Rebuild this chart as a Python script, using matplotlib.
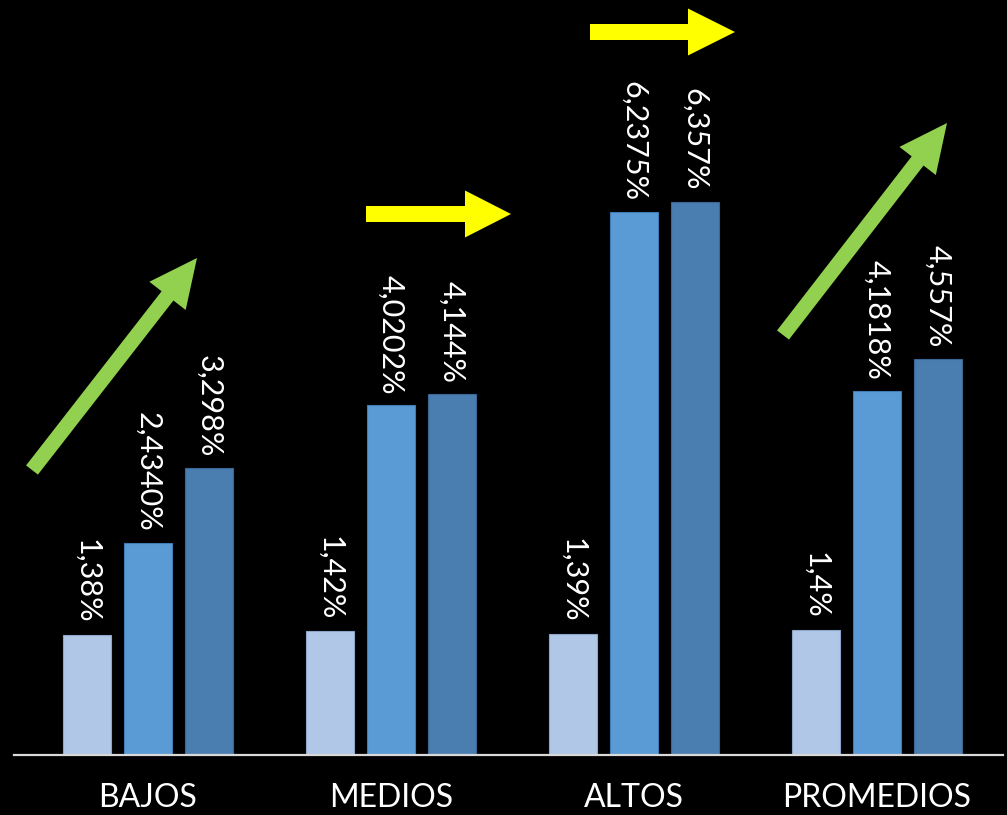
import matplotlib
matplotlib.use("Agg")
import matplotlib.pyplot as plt
from matplotlib.patches import FancyArrow
import numpy as np

categories = ["BAJOS", "MEDIOS", "ALTOS", "PROMEDIOS"]
serie1 = [1.38, 1.42, 1.39, 1.44]
serie2 = [2.4340, 4.0202, 6.2375, 4.1818]
serie3 = [3.298, 4.144, 6.357, 4.557]
labels1 = ["1,38%", "1,42%", "1,39%", "1,4%"]
labels2 = ["2,4340%", "4,0202%", "6,2375%", "4,1818%"]
labels3 = ["3,298%", "4,144%", "6,357%", "4,557%"]

colors = ["#B0C7E7", "#5B9BD5", "#4A7EB0"]
edges = ["#8DA5C8", "#3F7BB5", "#3A6793"]

W, H = 1007, 815
fig = plt.figure(figsize=(W / 100, H / 100), dpi=100, facecolor="black")
x0, x1 = 14, 1003
base = 755
ax = fig.add_axes([x0 / W, (H - base) / H, (x1 - x0) / W, base / H])
ax.set_facecolor("black")

px_per_unit = 87.0
ax.set_ylim(0, base / px_per_unit)
gsp = 243.0
ax.set_xlim((x0 - 148) / gsp, (x1 - 148) / gsp)

x = np.arange(len(categories))
bw = 48 / gsp
off = 61 / gsp
font = "Lato"
for i, (vals, labs) in enumerate([(serie1, labels1), (serie2, labels2), (serie3, labels3)]):
    pos = x + (i - 1) * off
    ax.bar(pos, vals, width=bw, color=colors[i], edgecolor=edges[i], linewidth=0.8)
    for xb, v, lab in zip(pos, vals, labs):
        ax.annotate(lab, (xb, v), xytext=(0, 8), textcoords="offset points",
                    rotation=-90, ha="center", va="bottom", color="white",
                    fontsize=22, family=font, fontweight="normal")

for s in ["top", "left", "right"]:
    ax.spines[s].set_visible(False)
ax.spines["bottom"].set_color("#D9D9D9")
ax.spines["bottom"].set_linewidth(1.6)
ax.set_yticks([])
ax.set_xticks(x)
ax.set_xticklabels(categories, color="white", fontsize=23, family=font, fontweight="normal")
ax.tick_params(axis="x", length=0, pad=20)

def arrow(px_tail, py_tail, px_tip, py_tip, color, width, head_w, head_l):
    xt, yt = px_tail / 100, (H - py_tail) / 100
    xh, yh = px_tip / 100, (H - py_tip) / 100
    a = FancyArrow(xt, yt, xh - xt, yh - yt, width=width / 100, head_width=head_w / 100,
                   head_length=head_l / 100, length_includes_head=True,
                   color=color, transform=fig.dpi_scale_trans, linewidth=0)
    fig.patches.append(a)

green = "#92D050"
yellow = "#FFFF00"
arrow(32, 470, 197, 258, green, 15, 46, 48)
arrow(783, 335, 947, 123, green, 15, 46, 48)
arrow(366, 214, 511, 214, yellow, 16, 47, 46)
arrow(590, 32, 735, 32, yellow, 16, 47, 47)

fig.savefig("out.png", dpi=100, facecolor="black")
